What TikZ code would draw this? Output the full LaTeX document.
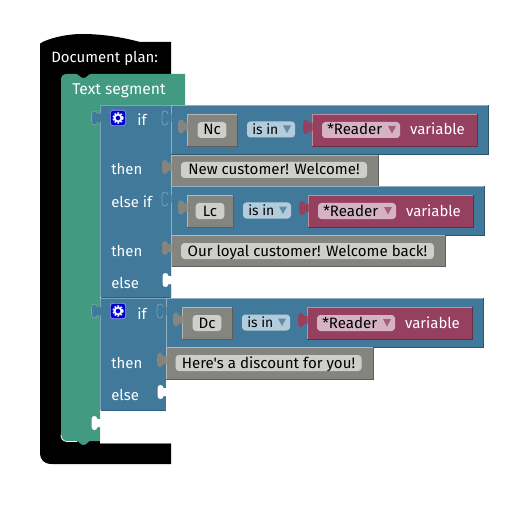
\documentclass[tikz,border=0pt]{standalone}
\usepackage{fontspec}
\newfontfamily\plainf{Fira Sans}
\definecolor{grn}{HTML}{429A80}
\definecolor{blu}{HTML}{41799B}
\definecolor{gry}{HTML}{858580}
\definecolor{mar}{HTML}{964060}
\definecolor{pil}{HTML}{CECECA}
\definecolor{pilb}{HTML}{B3CCDC}
\definecolor{pilm}{HTML}{D5B3C2}
\definecolor{bluD}{HTML}{2F5F7C}
\definecolor{bluL}{HTML}{7BA3BB}
\tikzset{
  lab/.style={font=\plainf\fontsize{11.2pt}{13pt}\selectfont,text=white,inner sep=0pt,anchor=west,text height=8.5pt,text depth=1pt},
  labc/.style={lab,anchor=center},
  dark/.style={font=\plainf\fontsize{11.3pt}{13pt}\selectfont,text=black,inner sep=0pt,text height=8.5pt,text depth=1pt},
  pill/.style={fill=pil,rounded corners=2.5pt,inner sep=0pt},
  bevel/.style={line width=.6pt},
}
% tab pointing left at edge x, centre y
\newcommand{\tabcurve}[2]{(#1-3,#2-4) .. controls (#1-3.5,#2-6) and (#1-4.5,#2-7) .. (#1-6,#2-7) .. controls (#1-8,#2-7) and (#1-9,#2-6) .. (#1-9,#2-3) -- (#1-9,#2+3) .. controls (#1-9,#2+6) and (#1-8,#2+7) .. (#1-6,#2+7) .. controls (#1-4.5,#2+7) and (#1-3.5,#2+6) .. (#1-3,#2+4)}
\newcommand{\tabshape}[2]{(#1+.5,#2-4) -- \tabcurve{#1}{#2} -- (#1+.5,#2+4) -- cycle}
\newcommand{\tabfill}[3]{\fill[#3] \tabshape{#1}{#2};}
\newcommand{\tabopen}[2]{\fill[blu] \tabshape{#1}{#2};
  \draw[bluL,line width=.5pt] \tabcurve{#1}{#2};}
\newcommand{\blk}[6]{% x1 y1 x2 y2 fill name
  \fill[#5] (#1,#2) rectangle (#3,#4);
  \draw[#5!70!black,bevel] (#1,#4) -- (#3,#4) -- (#3,#2);
  \draw[#5!60!white,bevel] (#1,#4) -- (#1,#2) -- (#3,#2);
  \coordinate (#6) at (#1,#2);}
\newcommand{\gear}[3]{% x y name
  \node[fill=blue!80!black,draw=blue!40!white,line width=.5pt,rounded corners=2pt,minimum size=11.5pt,inner sep=0pt] (#3) at (#1,#2) {};
  \draw[white,line width=1.3pt] (#1,#2) circle (3.4);
  \draw[white,line width=1.1pt,dash pattern=on 1.3pt off 1.1pt] (#1,#2) circle (5);}
\newcommand{\ddpill}[7]{% x1 x2 yc fill text arrow-colour name
  \fill[#4,rounded corners=2.5pt] (#1,#3-8) rectangle (#2,#3+8);
  \node[dark,anchor=west] (#7) at (#1+5,#3) {#5};
  \fill[#6] (#2-12,#3-4) -- (#2-4,#3-4) -- (#2-8,#3+3.5) -- cycle;}
\newcommand{\cond}[9]{% gx1 gx2 ytop text isin-x reader-x1 reader-x2 var-centre suffix
  \blk{#1}{#3}{#2}{#3+32}{gry}{g#9}
  \tabfill{#1}{#3+12.5}{gry}
  \node[dark,pill,minimum height=12pt,minimum width=21.5pt] (t#9) at ({(#1+#2)/2},#3+16) {#4};
  \ddpill{#5}{#5+48}{#3+15.5}{pilb}{\fontsize{10.4pt}{13pt}\selectfont is in}{blu!85!white}{i#9}
  \blk{#6}{#3}{#7}{#3+32}{mar}{m#9}
  \tabfill{#6}{#3+13}{mar}
  \ddpill{#6+10}{#6+88}{#3+16}{pilm}{*Reader}{mar!85!white}{r#9}
  \node[labc] (v#9) at (#8,#3+16) {variable};}
\begin{document}
\begin{tikzpicture}[x=.75pt,y=-.75pt]
\useasboundingbox (0,0) rectangle (511,513);
% black frame
\fill[black] (40,44) .. controls (40,42) and (60,34) .. (82,34) .. controls (105,34) and (125,38) .. (140,42) -- (171,42) -- (171,464) -- (52,464) .. controls (44,464) and (40,460) .. (40,452) -- cycle;
\node[lab] (docplan) at (51,58) {Document plan:};
% white centre of the frame below the if blocks
\fill[white] (100,297) rectangle (172,443);
\draw[gray,line width=.5pt] (100,443) -- (171,443);
% green segment
\fill[grn] (67,74) -- (76,74) .. controls (79,74) and (80,78) .. (83.5,78) .. controls (87,78) and (88,74) .. (91,74) -- (185,74) -- (185,105) -- (100,105) -- (100,441) -- (90,441) .. controls (88,441) and (87,445) .. (83.5,445) .. controls (80,445) and (79,441) .. (77,441) -- (67,441) .. controls (63,441) and (61,439) .. (61,435) -- (61,80) .. controls (61,76) and (63,74) .. (67,74) -- cycle;
\draw[white,line width=.6pt] (61,435) .. controls (61,439) and (63,441) .. (67,441.5) -- (77,441.5);
\node[lab,font=\plainf\fontsize{11.7pt}{13pt}\selectfont] (segment) at (72,90) {Text segment};
\tabfill{100.5}{423}{white}
% first if
\fill[blu] (100.5,105) rectangle (171,297);
\draw[bluL,bevel] (100.5,297) -- (100.5,105) -- (171,105);
\draw[bluD,bevel] (100.5,297) -- (171,297);
\tabopen{100.5}{118}
\gear{118}{118}{gearA}
\node[labc] (ifA) at (142,121) {if};
\node[lab] (thenA) at (111,170) {then};
\node[lab] (elseifA) at (111,202) {else if};
\node[lab] (thenB) at (111,251) {then};
\node[lab] (elseA) at (111,283) {else};
% row 1
\blk{171}{105}{488}{154.5}{blu}{rowA}
\tabopen{171}{118}
\cond{187}{237}{114}{Nc}{247}{312}{477}{437.5}{A}
\blk{171}{155}{378}{186}{gry}{stA}
\tabfill{171}{167}{gry}
\node[dark,pill,minimum height=12pt,minimum width=139.5pt] (tstA) at (274,170) {New customer! Welcome!};
% row 2
\blk{171}{186}{484}{235}{blu}{rowB}
\tabopen{171}{199}
\cond{187}{233}{195}{Lc}{243}{308}{473}{433.5}{B}
\blk{171}{235.5}{445}{266.5}{gry}{stB}
\tabfill{171}{248}{gry}
\node[dark,pill,minimum height=12pt,minimum width=189.5pt] (tstB) at (307.5,251) {Our loyal customer! Welcome back!};
\tabfill{171.5}{280}{white}
% second if
\fill[blu] (100.5,298) rectangle (166,410);
\draw[bluL,bevel] (100.5,410) -- (100.5,298) -- (166,298);
\draw[bluD,bevel] (100.5,410) -- (166,410);
\tabopen{100.5}{311}
\gear{118}{311}{gearB}
\node[labc] (ifB) at (142,314) {if};
\node[lab] (thenC) at (111,363) {then};
\node[lab] (elseB) at (111,395) {else};
\blk{166}{298}{483}{347}{blu}{rowC}
\tabopen{166}{311}
\cond{182}{232}{307}{Dc}{242}{307}{472}{432.5}{C}
\blk{166}{347.5}{373}{379}{gry}{stC}
\tabfill{166}{360}{gry}
\node[dark,pill,minimum height=12pt,minimum width=139.5pt] (tstC) at (268.5,363) {Here's a discount for you!};
\tabfill{166.5}{392}{white}
\end{tikzpicture}
\end{document}
